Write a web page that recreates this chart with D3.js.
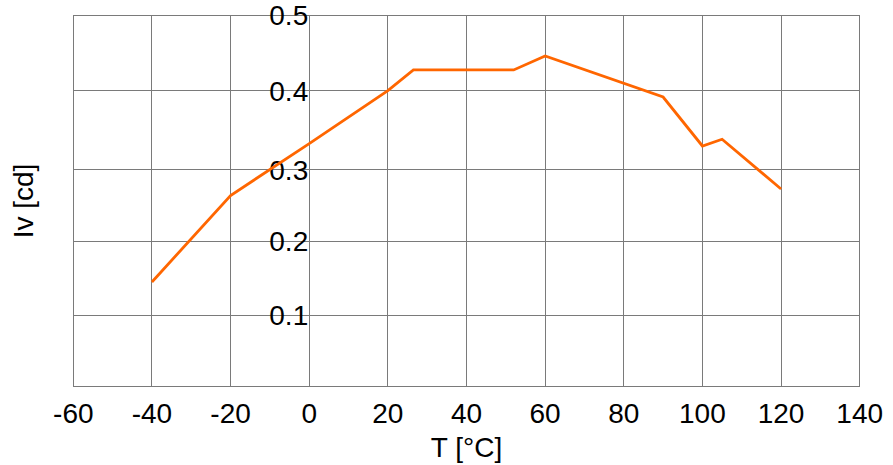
<!DOCTYPE html>
<html lang="en">
<head>
  <meta charset="UTF-8">
  <title>Iv vs T</title>
  <style>
    body {
      margin: 0;
      padding: 0;
      background: #fff;
    }

    svg {
      display: block;
      font-family: "Liberation Sans", Arial, Helvetica, sans-serif;
    }

    .grid line {
      stroke: #7a7a7a;
      stroke-width: 1;
      shape-rendering: crispEdges;
    }

    .tick-label {
      font-size: 28px;
      fill: #000;
    }

    .series {
      fill: none;
      stroke: #ff6600;
      stroke-width: 2.8px;
      stroke-linejoin: miter;
    }
  </style>
</head>
<body>
  <svg></svg>

  <script src="https://d3js.org/d3.v7.min.js"></script>
  <script>
    const width = 893, height = 465;
    const margin = { top: 15.3, right: 33.3, bottom: 78.3, left: 73.3 };

    // data
    const temps = [-40, -20, 0, 20, 26.5, 52, 60, 90, 100, 105, 120];
    const iv = [0.145, 0.264, 0.333, 0.4, 0.4275, 0.4275, 0.446, 0.392, 0.33, 0.3385, 0.273];

    const xTicks = [-60, -40, -20, 0, 20, 40, 60, 80, 100, 120, 140];
    const yTicks = [0.1, 0.2, 0.3, 0.4, 0.5];

    const xTitle = "T [°C]";
    const yTitle = "Iv [cd]";

    const svg = d3.select("svg")
      .attr("width", width)
      .attr("height", height);

    const x = d3.scaleLinear()
      .domain([-60, 140])
      .range([margin.left, width - margin.right]);

    // the original grid rows are not quite evenly spaced, so the scale is piecewise
    const y = d3.scaleLinear()
      .domain([0, 0.1, 0.2, 0.3, 0.4, 0.5])
      .range([386.7, 315.3, 241.3, 169.7, 90.7, margin.top]);

    const grid = svg.append("g").attr("class", "grid");

    // vertical grid lines
    grid.selectAll(".vx")
      .data(xTicks)
      .join("line")
      .attr("class", "vx")
      .attr("x1", d => x(d))
      .attr("x2", d => x(d))
      .attr("y1", y(0.5))
      .attr("y2", y(0));

    // horizontal grid lines (incl. bottom edge)
    grid.selectAll(".hy")
      .data([0].concat(yTicks))
      .join("line")
      .attr("class", "hy")
      .attr("x1", x(-60))
      .attr("x2", x(140))
      .attr("y1", d => y(d))
      .attr("y2", d => y(d));

    // x tick labels
    svg.append("g")
      .selectAll("text")
      .data(xTicks)
      .join("text")
      .attr("class", "tick-label")
      .attr("x", d => x(d))
      .attr("y", 423)
      .attr("text-anchor", "middle")
      .text(d => d);

    // y tick labels hang off the x=0 grid line
    svg.append("g")
      .selectAll("text")
      .data(yTicks)
      .join("text")
      .attr("class", "tick-label")
      .attr("x", x(0) - 1)
      .attr("y", d => y(d))
      .attr("dy", "0.36em")
      .attr("text-anchor", "end")
      .text(d => d3.format(".1f")(d));

    // axis titles
    svg.append("text")
      .attr("class", "tick-label")
      .attr("x", (x(-60) + x(140)) / 2)
      .attr("y", 457)
      .attr("text-anchor", "middle")
      .text(xTitle);

    svg.append("text")
      .attr("class", "tick-label")
      .attr("transform", `translate(33,${(y(0) + y(0.5)) / 2}) rotate(-90)`)
      .attr("text-anchor", "middle")
      .text(yTitle);

    const line = d3.line()
      .x((d, i) => x(temps[i]))
      .y(d => y(d));

    svg.append("path")
      .datum(iv)
      .attr("class", "series")
      .attr("d", line);
  </script>
</body>
</html>
